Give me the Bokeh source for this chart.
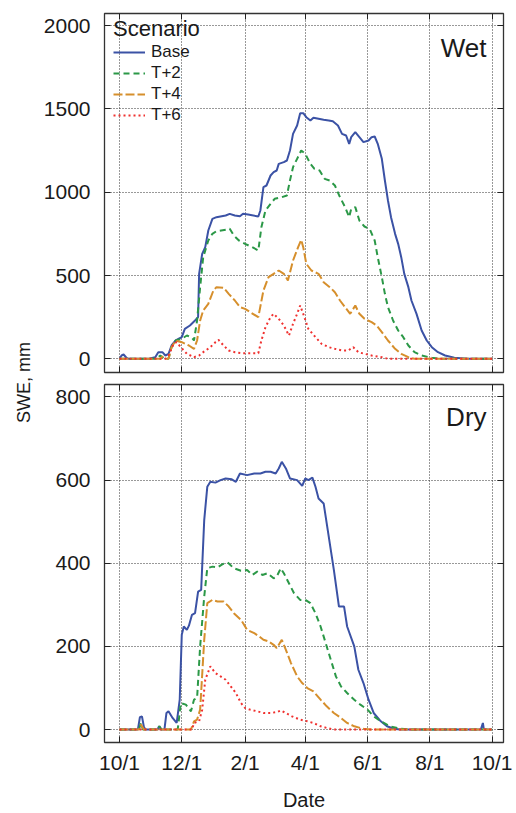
import math
from bokeh.plotting import figure
from bokeh.layouts import row, column
from bokeh.models import Range1d, FixedTicker, LinearAxis, Legend, LegendItem, Label
from bokeh.embed import file_html
from bokeh.resources import INLINE
from bokeh.core.properties import value

FONT = "Liberation Sans"
TXT = "#1a1a1a"

# ---------------- data (day of water year since 10/1, SWE in mm) ----------------
tick_days = [0, 61, 123, 182, 243, 304, 365]
tick_labels = ["10/1", "12/1", "2/1", "4/1", "6/1", "8/1", "10/1"]
wet_yticks = [0, 500, 1000, 1500, 2000]
dry_yticks = [0, 200, 400, 600, 800]
scenarios = ["Base", "T+2", "T+4", "T+6"]

wet_base_day = [0,2,4,7,9,29,35,38,42,45,48,51,55,61,64,69,74,77,78,81,84,87,91,95,104,108,113,118,121,126,
                136,138,141,144,148,151,154,156,161,164,167,170,174,177,180,183,187,190,195,200,205,209,214,218,222,
                225,227,231,235,239,244,247,250,253,257,260,263,266,270,273,276,279,283,286,291,296,301,306,312,319,
                328,341,365]
wet_base_swe = [0,20,26,5,0,0,10,40,40,20,30,80,110,130,180,200,230,250,510,630,670,770,840,850,860,870,860,855,870,866,
                854,890,1030,1040,1100,1120,1130,1170,1180,1190,1250,1350,1400,1474,1474,1450,1430,1446,1440,1434,1430,1425,1400,1350,1340,
                1290,1330,1360,1330,1300,1310,1330,1334,1290,1200,1070,950,850,750,690,610,510,430,350,270,170,110,70,40,20,
                6,0,0]

wet_t2_day = [0,36,40,44,48,51,55,61,66,71,73,76,79,82,87,91,95,104,108,112,117,123,130,136,139,143,148,152,159,164,
              167,170,174,178,182,187,191,196,201,206,211,216,221,225,227,231,235,240,245,250,253,257,260,263,268,273,
              278,283,289,296,306,315,365]
wet_t2_swe = [0,0,20,0,0,70,110,120,140,126,110,230,430,610,710,750,766,774,780,740,710,690,670,650,790,890,930,960,970,980,
              1070,1150,1200,1250,1230,1170,1140,1130,1080,1070,1040,970,910,850,900,910,830,794,780,710,610,490,390,310,230,170,
              130,80,40,20,6,0,0]

wet_t4_day = [0,40,42,44,48,51,55,61,68,73,76,79,82,87,92,95,102,107,113,118,123,128,136,141,146,151,156,161,165,170,
              175,178,180,183,188,195,200,206,211,216,221,226,231,235,240,247,252,257,263,270,276,283,289,365]
wet_t4_swe = [0,0,15,0,0,70,110,100,80,60,110,230,290,330,410,430,426,390,350,310,300,280,250,410,490,510,530,510,470,590,
              670,714,670,570,530,510,460,430,400,350,310,270,320,270,240,220,200,160,110,60,30,10,0,0]

wet_t6_day = [0,45,48,53,56,60,66,73,78,82,89,94,97,102,107,113,120,136,139,143,148,151,156,161,166,170,174,177,180,185,
              192,198,205,211,218,224,229,234,240,247,257,263,365]
wet_t6_swe = [0,0,20,90,100,70,30,10,20,40,70,100,114,80,50,40,34,34,110,190,250,270,240,200,140,210,270,320,270,180,
              130,90,70,60,50,50,70,40,30,20,10,0,0]

dry_base_day = [0,18,20,22,24,26,37,39,41,44,46,48,52,56,59,61,63,66,68,71,74,77,80,83,86,89,94,99,104,110,
                114,118,125,132,138,143,148,153,156,159,163,167,174,179,182,185,189,192,195,200,205,210,215,220,223,
                230,234,239,244,249,256,262,269,275,354,356,357,365]
dry_base_swe = [0,0,30,32,5,0,0,8,0,0,40,44,28,16,72,228,248,240,250,276,280,332,336,504,584,596,594,600,604,602,
                596,616,612,616,616,620,620,616,628,644,628,604,600,586,604,600,606,584,556,544,464,384,296,296,248,
                200,144,112,72,40,20,8,2,0,0,16,0,0]

dry_t2_day = [0,19,21,23,37,39,41,57,58,60,65,70,73,76,79,83,86,91,96,101,106,112,119,125,130,135,140,145,151,154,
              158,161,166,171,177,182,187,192,197,202,207,212,217,223,230,236,243,249,256,265,275,285,365]
dry_t2_swe = [0,0,16,0,0,8,0,0,20,64,60,44,72,76,200,320,388,392,390,398,402,388,382,384,372,380,372,376,364,368,
              388,376,352,328,312,312,304,280,248,208,168,128,104,88,72,60,48,32,20,8,2,0,0]

dry_t4_day = [0,19,21,24,70,73,76,79,83,86,91,96,102,107,112,119,125,132,137,141,146,151,154,159,163,168,174,179,184,190,
              197,203,210,217,223,230,239,246,365]
dry_t4_swe = [0,0,12,0,0,20,24,48,216,304,312,308,308,296,280,264,240,232,224,216,212,204,196,216,192,160,128,112,100,92,
              72,56,40,28,16,8,2,0,0]

dry_t6_day = [0,71,73,78,81,84,89,94,99,104,109,114,119,123,128,135,141,148,154,158,163,169,177,184,190,197,203,210,365]
dry_t6_swe = [0,0,16,20,48,120,152,136,128,120,104,88,64,52,48,44,40,40,42,46,40,32,24,20,16,8,4,0,0]

# ---------------- styles ----------------
colors = ["#3b52a5", "#2b9847", "#d68f2c", "#f0312f"]
dashes = ["solid", "6 4", "9 3", "2 3"]
widths = [2.0, 2.0, 2.0, 2.0]

X_RANGE = (-14.7, 376.2)


def hide_labels(ax):
    ax.major_label_text_font_size = "0px"
    ax.major_label_text_color = None
    ax.major_label_standoff = 0


def add_mirror_axes(p, xticks, yticks):
    for loc, ticks in (("right", yticks), ("above", xticks)):
        ax = LinearAxis(ticker=FixedTicker(ticks=ticks),
                        major_tick_in=6, major_tick_out=0,
                        axis_line_color=None, minor_tick_line_color=None,
                        major_tick_line_color="#222222")
        hide_labels(ax)
        p.add_layout(ax, loc)


def style_panel(p, yticks, show_xlabels):
    p.outline_line_color = "#333333"
    p.outline_line_width = 1.3
    p.background_fill_color = "white"
    p.border_fill_color = "white"
    xa = p.below[0]
    ya = p.left[0]
    xa.ticker = FixedTicker(ticks=tick_days)
    xa.major_label_overrides = {d: l for d, l in zip(tick_days, tick_labels)}
    ya.ticker = FixedTicker(ticks=yticks)
    for ax in (xa, ya):
        ax.axis_line_color = None
        ax.minor_tick_line_color = None
        ax.major_tick_in = 6
        ax.major_tick_out = 0
        ax.major_tick_line_color = "#222222"
        ax.major_label_text_font = FONT
        ax.major_label_text_font_size = "21px"
        ax.major_label_text_color = TXT
    ya.major_label_standoff = 14
    if show_xlabels:
        xa.major_label_standoff = 8
    else:
        hide_labels(xa)
    p.grid.grid_line_color = "#333333"
    p.grid.grid_line_dash = "1 2"
    p.grid.grid_line_width = 1
    add_mirror_axes(p, tick_days, yticks)
    return xa, ya


# ---------------- top panel (Wet) ----------------
top = figure(width=476, height=378, output_backend="svg", toolbar_location=None,
             x_range=Range1d(*X_RANGE), y_range=Range1d(-82, 2072),
             min_border_left=63, min_border_right=13, min_border_top=13, min_border_bottom=6)
style_panel(top, wet_yticks, False)

wet = [(wet_base_day, wet_base_swe), (wet_t2_day, wet_t2_swe), (wet_t4_day, wet_t4_swe), (wet_t6_day, wet_t6_swe)]
items = []
for (d, s), name, c, dsh, w in zip(wet, scenarios, colors, dashes, widths):
    r = top.line(d, s, line_color=c, line_dash=dsh, line_width=w)
    items.append(LegendItem(label=name, renderers=[r]))

legend = Legend(items=items, location=(9, 247), title="Scenario",
                title_text_font=FONT, title_text_font_size="22px", title_text_font_style="normal",
                title_text_color=TXT, title_standoff=0,
                label_text_font=FONT, label_text_font_size="17px", label_text_color=TXT,
                glyph_width=32, glyph_height=20, label_height=20, label_standoff=6,
                spacing=1, padding=4, margin=0,
                background_fill_alpha=0, border_line_color=None)
top.add_layout(legend)
top.add_layout(Label(x=359.6, y=1868, text="Wet", text_align="right", text_baseline="alphabetic",
                     text_font=FONT, text_font_size="26px", text_color=TXT))

# ---------------- bottom panel (Dry) ----------------
bot = figure(width=476, height=435, output_backend="svg", toolbar_location=None,
             x_range=Range1d(*X_RANGE), y_range=Range1d(-31, 830),
             min_border_left=64, min_border_right=12, min_border_top=6, min_border_bottom=70)
bx, by = style_panel(bot, dry_yticks, True)
bx.axis_label = "Date"
bx.axis_label_text_font = FONT
bx.axis_label_text_font_size = "20px"
bx.axis_label_text_font_style = "normal"
bx.axis_label_text_color = TXT
bx.axis_label_standoff = 12

dry = [(dry_base_day, dry_base_swe), (dry_t2_day, dry_t2_swe), (dry_t4_day, dry_t4_swe), (dry_t6_day, dry_t6_swe)]
for (d, s), c, dsh, w in zip(dry, colors, dashes, widths):
    bot.line(d, s, line_color=c, line_dash=dsh, line_width=w)
bot.add_layout(Label(x=359.6, y=752, text="Dry", text_align="right", text_baseline="alphabetic",
                     text_font=FONT, text_font_size="26px", text_color=TXT))

# ---------------- shared y label ----------------
lab = figure(width=40, height=813, output_backend="svg", toolbar_location=None,
             x_range=Range1d(0, 40), y_range=Range1d(0, 813),
             x_axis_location=None, y_axis_location=None, min_border=0)
lab.grid.visible = False
lab.outline_line_color = None
lab.text(x=[23], y=[431], text=["SWE, mm"], angle=math.pi / 2, text_align="center",
         text_baseline="middle", text_font=value(FONT), text_font_size="18px", text_color=TXT)

layout = row(lab, column(top, bot, spacing=0), spacing=0)
open("out.html", "w").write(file_html(layout, INLINE))
